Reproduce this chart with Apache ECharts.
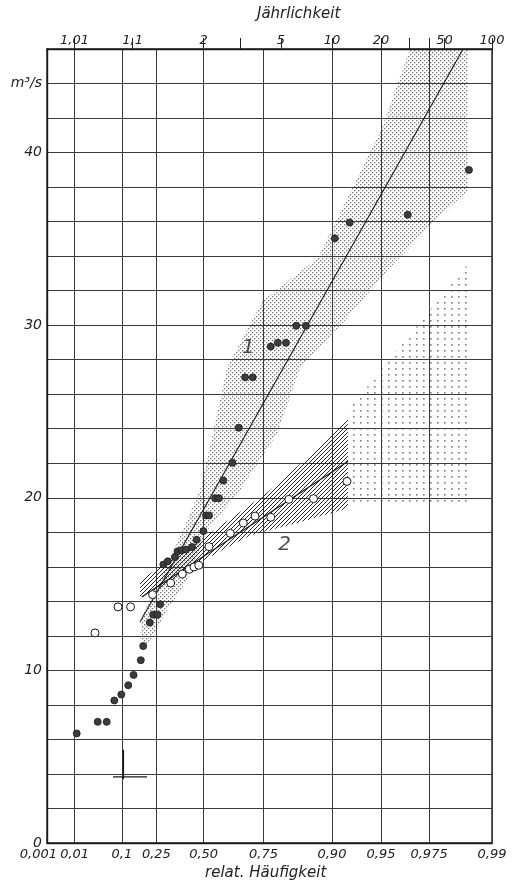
<!DOCTYPE html>
<html><head><meta charset="utf-8">
<script src="https://cdn.jsdelivr.net/npm/echarts@6/dist/echarts.min.js"></script>
<style>html,body{margin:0;padding:0;background:#fff}#c{width:520px;height:884px}</style>
</head><body><div id="c"></div>
<script>
// ---- data (relative frequency F, discharge Q in m3/s) ----
const bottomTickFreq = [0.001,0.01,0.1,0.25,0.5,0.75,0.9,0.95,0.975,0.99];
const bottomTickLabels = ['0,001','0,01','0,1','0,25','0,50','0,75','0,90','0,95','0,975','0,99'];
const topTickFreq = [0.0099,0.14,0.5,0.667,0.8,0.9,0.95,0.9667,0.975,0.98,0.99];
const topTickLabels = ['1,01','1,1','2','','5','10','20','','','50','100'];
const yLabelValues = [0,10,20,30,40];
const yUnitValue = 44;
const yUnitLabel = 'm³/s';

const series1Points = [
  [0.0115,6.35],[0.0376,7.02],[0.0564,7.02],[0.0764,8.26],[0.0982,8.6],[0.123,9.14],
  [0.144,9.74],[0.175,10.59],[0.186,11.41],[0.217,12.77],[0.234,13.23],[0.256,13.23],
  [0.269,13.83],[0.286,16.13],[0.309,16.32],[0.348,16.57],[0.362,16.9],[0.384,16.96],
  [0.408,17.0],[0.440,17.15],[0.464,17.57],[0.499,18.07],[0.512,18.98],[0.527,18.98],
  [0.557,19.98],[0.575,19.98],[0.595,21.0],[0.635,22.03],[0.661,24.06],[0.686,26.98],
  [0.714,26.98],[0.772,28.76],[0.792,28.98],[0.813,28.98],[0.837,29.96],[0.857,29.96],
  [0.904,35.03],[0.922,35.95],[0.966,36.4],[0.986,38.99]
];
const series2Points = [
  [0.0329,12.17],[0.0876,13.68],[0.132,13.68],[0.231,14.39],[0.325,15.06],[0.3875,15.58],
  [0.425,15.86],[0.450,15.99],[0.475,16.09],[0.527,17.17],[0.626,17.94],[0.679,18.54],
  [0.722,18.94],[0.772,18.87],[0.820,19.91],[0.871,19.95],[0.919,20.95]
];
const line1Points = [[0.1715,12.8],[0.9846,45.93]];
const line2Points = [[0.179,14.25],[0.9204,22.12]];

const band1Polygon = [
  [0.194,11.46],[0.1715,11.92],[0.185,13.31],[0.2685,15.22],[0.391,18.11],[0.481,20.43],
  [0.5466,23.73],[0.6116,27.55],[0.748,31.42],[0.879,33.91],[0.918,37.21],[0.9507,41.44],
  [0.967,45.95],[0.9858,45.95],[0.9858,37.79],[0.9787,36.34],[0.956,33.33],[0.9167,30.27],
  [0.845,27.55],[0.79,23.73],[0.666,20.43],[0.517,18.11],[0.413,15.22],[0.2948,13.31],[0.233,11.92]
];
const band2Polygon = [
  [0.1715,15.22],[0.481,17.53],[0.7577,20.25],[0.8647,22.45],[0.920,24.6],
  [0.920,19.39],[0.845,18.58],[0.704,17.82],[0.481,16.26],[0.2685,14.76],[0.1715,14.18]
];
const band3Polygon = [[0.920,25.06],[0.9855,33.45],[0.9862,33.45],[0.9862,19.56],[0.920,19.56]];
const markSegmentH = [[0.0727,3.83],[0.2037,3.83]];
const markSegmentV = [[0.105,3.7],[0.105,5.4]];
const curveLabels = [['1',0.698,28.7],['2',0.81,17.25]];

// ---- Gumbel probability scale ----
const gum = F => -Math.log(-Math.log(F));
const toXY = p => [gum(p[0]), p[1]];

function pattern(kind){
  const c = document.createElement('canvas');
  const ctx = c.getContext('2d');
  if(kind==='fine'){
    c.width=4;c.height=4;
    ctx.fillStyle='rgba(60,60,60,0.7)';
    ctx.fillRect(0,0,1.3,1.3);ctx.fillRect(2,2,1.3,1.3);
  } else if(kind==='hatch'){
    c.width=4;c.height=4;
    ctx.strokeStyle='rgba(30,30,30,0.95)';ctx.lineWidth=1;
    ctx.beginPath();ctx.moveTo(-1,5);ctx.lineTo(5,-1);ctx.stroke();
    ctx.beginPath();ctx.moveTo(-1,1);ctx.lineTo(1,-1);ctx.stroke();
    ctx.beginPath();ctx.moveTo(3,5);ctx.lineTo(5,3);ctx.stroke();
  } else {
    c.width=7;c.height=6;
    ctx.fillStyle='rgba(70,70,70,0.7)';
    ctx.fillRect(3,2,1.6,1.6);
  }
  return {image:c, repeat:'repeat'};
}
function polySeries(poly, fill){
  return {type:'custom', xAxisIndex:0, yAxisIndex:0, data:[0], clip:true, z:1, silent:true,
    renderItem:(params, api)=>{
      const pts = poly.map(p=>api.coord(toXY(p)));
      return {type:'polygon', shape:{points:pts}, style:{fill:fill, stroke:null}};
    }};
}

const FONT = 'DejaVu Sans';
const EPS = 1e-6;
const xMin = gum(bottomTickFreq[0]) - EPS, xMax = gum(bottomTickFreq[bottomTickFreq.length-1]) + EPS;
const bottomVals = bottomTickFreq.map(gum);
const topVals = topTickFreq.map(gum);
const topLabelVals = topVals.filter((v,i)=>topTickLabels[i]!=='');
function nearestIndex(v, vals){
  let bi=0,bd=1e9; vals.forEach((x,i)=>{const d=Math.abs(x-v); if(d<bd){bd=d;bi=i;}});
  return bi;
}

const chart = echarts.init(document.getElementById('c'));
chart.setOption({
  animation:false,
  backgroundColor:'#fff',
  grid:{left:47,right:28,top:49,bottom:41,show:true,borderColor:'#1a1a1a',borderWidth:1.4,containLabel:false},
  xAxis:[{
    type:'value', position:'bottom', min:xMin, max:xMax,
    axisLine:{show:true,onZero:false,lineStyle:{color:'#1a1a1a',width:1.4}},
    axisTick:{show:false, customValues:bottomVals},
    splitLine:{show:true,lineStyle:{color:'#3a3a3a',width:1}},
    axisLabel:{customValues:bottomVals, hideOverlap:false, margin:5,
      fontFamily:FONT, fontStyle:'italic', fontSize:13, color:'#222',
      rich:{first:{width:20, align:'right', fontFamily:FONT, fontStyle:'italic', fontSize:13, color:'#222'}},
      formatter:v=>{const i=nearestIndex(v,bottomVals); return i===0 ? '{first|'+bottomTickLabels[i]+'}' : bottomTickLabels[i];}}
  },{
    type:'value', position:'top', min:xMin, max:xMax,
    axisLine:{show:true,onZero:false,lineStyle:{color:'#1a1a1a',width:1.4}},
    axisTick:{show:true, inside:false, length:11, customValues:topVals, lineStyle:{color:'#222',width:1}},
    splitLine:{show:false},
    axisLabel:{customValues:topLabelVals, margin:2, fontFamily:FONT, fontStyle:'italic', fontSize:13, color:'#222',
      formatter:v=>topTickLabels[nearestIndex(v,topVals)]}
  }],
  yAxis:{
    type:'value', min:0, max:46, interval:2,
    axisLine:{show:true,onZero:false,lineStyle:{color:'#1a1a1a',width:1.4}},
    axisTick:{show:false},
    splitLine:{show:true,lineStyle:{color:'#3a3a3a',width:1}},
    axisLabel:{margin:5, fontFamily:FONT, fontStyle:'italic', fontSize:14, color:'#222',
      formatter:v=> yLabelValues.indexOf(v)>=0 ? String(v) : (v===yUnitValue ? yUnitLabel : '')}
  },
  graphic:[
    {type:'text', left:301-44, top:7, style:{text:'Jährlichkeit', font:'italic 15px "DejaVu Sans"', fill:'#222'}},
    {type:'text', left:267-62, top:866, style:{text:'relat. Häufigkeit', font:'italic 15px "DejaVu Sans"', fill:'#222'}}
  ],
  series:[
    polySeries(band1Polygon, pattern('fine')),
    polySeries(band3Polygon, pattern('coarse')),
    polySeries(band2Polygon, pattern('hatch')),
    {type:'line', data:line1Points.map(toXY), symbol:'none', z:3, lineStyle:{color:'#1a1a1a',width:1.1}},
    {type:'line', data:line2Points.map(toXY), symbol:'none', z:3, lineStyle:{color:'#1a1a1a',width:1.1}},
    {type:'line', data:markSegmentH.map(toXY), symbol:'none', z:3, lineStyle:{color:'#1a1a1a',width:1.2}},
    {type:'line', data:markSegmentV.map(toXY), symbol:'none', z:3, lineStyle:{color:'#1a1a1a',width:1.6}},
    {type:'scatter', data:series1Points.map(toXY), symbol:'circle', symbolSize:7, z:5,
      itemStyle:{color:'#3c3c3c', borderColor:'#1a1a1a', borderWidth:0.8, opacity:1}},
    {type:'scatter', data:series2Points.map(toXY), symbol:'circle', symbolSize:8, z:5,
      itemStyle:{color:'#fff', borderColor:'#1a1a1a', borderWidth:1, opacity:1}},
    {type:'scatter', data:curveLabels.map(c=>({value:[gum(c[1]),c[2]], name:c[0]})), symbolSize:0, z:6,
      label:{show:true, position:'inside', formatter:p=>p.name, fontFamily:FONT, fontStyle:'italic', fontSize:20, color:'#222'}}
  ]
});
</script></body></html>
